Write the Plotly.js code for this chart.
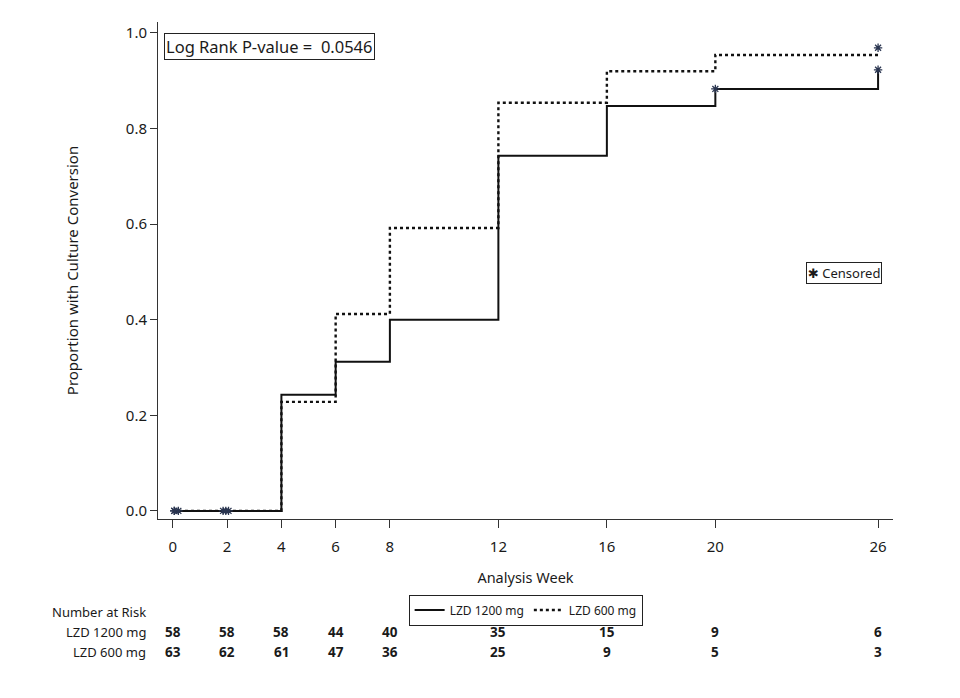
<!DOCTYPE html>
<html>
<head>
<meta charset="utf-8">
<script src="https://cdn.plot.ly/plotly-3.0.1.min.js"></script>
<style>html,body{margin:0;padding:0;background:#fff;}#chart{width:960px;height:698px;}</style>
</head>
<body>
<div id="chart"></div>
<script>
// ---- data ----
const weeks = [0, 4, 6, 8, 12, 16, 20, 26];
const lzd1200 = [0, 0.243, 0.312, 0.400, 0.743, 0.847, 0.883, 0.923];
const lzd600 = [0, 0.228, 0.412, 0.592, 0.854, 0.920, 0.954, 0.954];
const censoredWeeks = [0.05, 0.2, 1.85, 2.05, 0.05, 1.95, 20, 26, 26];
const censoredValues = [0, 0, 0, 0, 0, 0, 0.883, 0.923, 0.969];
const tickWeeks = [0, 2, 4, 6, 8, 12, 16, 20, 26];
const yTicks = [0, 0.2, 0.4, 0.6, 0.8, 1.0];
const yTickLabels = ['0.0', '0.2', '0.4', '0.6', '0.8', '1.0'];
const riskWeeks = [0, 2, 4, 6, 8, 12, 16, 20, 26];
const risk1200 = [58, 58, 58, 44, 40, 35, 15, 9, 6];
const risk600 = [63, 62, 61, 47, 36, 25, 9, 5, 3];
const groupNames = ['LZD 1200 mg', 'LZD 600 mg'];

const FONT = 'Noto Sans, DejaVu Sans, sans-serif';
const INK = '#1a1a1a';

const traces = [
  {x: weeks, y: lzd1200, mode: 'lines', line: {shape: 'hv', color: '#111', width: 2}, name: groupNames[0]},
  {x: weeks, y: lzd600, mode: 'lines', line: {shape: 'hv', color: '#111', width: 2.4, dash: 'dot'}, name: groupNames[1]},
  {x: censoredWeeks, y: censoredValues, mode: 'markers', name: 'Censored', showlegend: false,
   marker: {symbol: 'asterisk-open', size: 7, color: '#2a3550', line: {color: '#2a3550', width: 1.3}}}
];

const annotations = [
  {xref: 'paper', yref: 'paper', x: 0.008, y: 0.978, xanchor: 'left', yanchor: 'top',
   text: 'Log Rank P-value =  0.0546', showarrow: false, font: {family: FONT, size: 16.5, color: INK},
   bordercolor: '#222', borderwidth: 1, borderpad: 1, bgcolor: '#fff'},
  {xref: 'paper', yref: 'paper', x: 0.882, y: 0.517, xanchor: 'left', yanchor: 'top',
   text: '<b>\u2731</b> Censored', showarrow: false, font: {family: FONT, size: 13, color: INK},
   bordercolor: '#222', borderwidth: 1, borderpad: 1, bgcolor: '#fff'},
  {xref: 'paper', yref: 'paper', x: -0.147, y: -0.187, xanchor: 'left', yanchor: 'middle',
   text: 'Number at Risk', showarrow: false, font: {family: FONT, size: 13, color: INK}},
  {xref: 'paper', yref: 'paper', x: -0.014, y: -0.2274, xanchor: 'right', yanchor: 'middle',
   text: groupNames[0], showarrow: false, font: {family: FONT, size: 13, color: INK}},
  {xref: 'paper', yref: 'paper', x: -0.014, y: -0.2676, xanchor: 'right', yanchor: 'middle',
   text: groupNames[1], showarrow: false, font: {family: FONT, size: 13, color: INK}}
];
riskWeeks.forEach((w, i) => {
  annotations.push({xref: 'x', yref: 'paper', x: w, y: -0.2274, xanchor: 'center', yanchor: 'middle',
    text: '<b>' + risk1200[i] + '</b>', showarrow: false, font: {family: FONT, size: 13.5, color: INK}});
  annotations.push({xref: 'x', yref: 'paper', x: w, y: -0.2676, xanchor: 'center', yanchor: 'middle',
    text: '<b>' + risk600[i] + '</b>', showarrow: false, font: {family: FONT, size: 13.5, color: INK}});
});

const layout = {
  width: 960, height: 698,
  margin: {l: 158, r: 67, t: 22, b: 179},
  paper_bgcolor: '#fff', plot_bgcolor: '#fff',
  font: {family: FONT, color: INK, size: 14},
  xaxis: {
    range: [-0.55, 26.55], tickvals: tickWeeks, ticktext: tickWeeks.map(String),
    showline: true, linecolor: '#333', linewidth: 1, mirror: false,
    ticks: 'outside', ticklen: 8, tickcolor: '#333', showgrid: false, zeroline: false,
    ticklabelstandoff: 6,
    tickfont: {family: FONT, size: 15, color: INK},
    title: {text: 'Analysis Week', font: {family: FONT, size: 14.5, color: INK}, standoff: 17}
  },
  yaxis: {
    range: [-0.017, 1.023], tickvals: yTicks, ticktext: yTickLabels,
    showline: true, linecolor: '#333', linewidth: 1, mirror: false,
    ticks: 'outside', ticklen: 7, tickcolor: '#333', showgrid: false, zeroline: false,
    tickfont: {family: FONT, size: 15, color: INK},
    title: {text: 'Proportion with Culture Conversion', font: {family: FONT, size: 15, color: INK}, standoff: 43}
  },
  legend: {orientation: 'h', x: 0.341, y: -0.152, xanchor: 'left', yanchor: 'top',
    bordercolor: '#222', borderwidth: 1, bgcolor: '#fff',
    font: {family: FONT, size: 12, color: INK}, itemwidth: 30, tracegroupgap: 0},
  annotations: annotations,
  showlegend: true
};

Plotly.newPlot('chart', traces, layout, {displayModeBar: false, staticPlot: true});
</script>
</body>
</html>
